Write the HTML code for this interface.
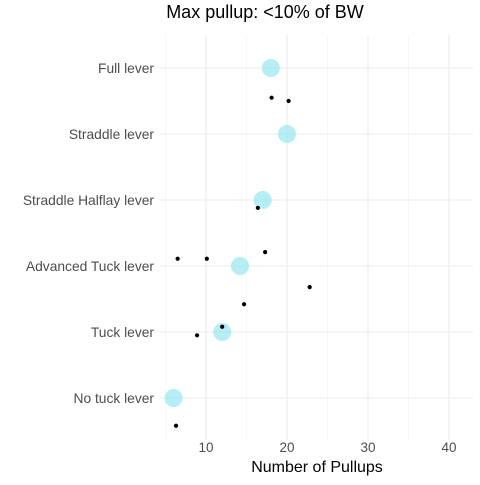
<!DOCTYPE html>
<html><head><meta charset="utf-8"><style>
body{margin:0;background:#fff;}
svg text{font-family:"Liberation Sans",sans-serif;}
</style></head><body>
<svg id="chart" width="480" height="480" xmlns="http://www.w3.org/2000/svg">
<rect width="480" height="480" fill="#fff"/>
<text x="265" y="18" text-anchor="middle" font-size="18" fill="#000">Max pullup: &lt;10% of BW</text>
<g id="grid"></g><g id="marks"></g><g id="labels"></g>
<text x="317" y="472" text-anchor="middle" font-size="16" fill="#000">Number of Pullups</text>
</svg>
<script>
const categories = ["No tuck lever","Tuck lever","Advanced Tuck lever","Straddle Halflay lever","Straddle lever","Full lever"];
const meanValues = [6, 12, 14.2, 17, 20, 18];
const pointX = [18.1, 20.2, 16.4, 17.3, 6.5, 10.1, 22.8, 14.7, 12, 8.9, 6.3];
const pointY = [5.55, 5.5, 3.88, 3.21, 3.11, 3.11, 2.68, 2.42, 2.08, 1.95, 0.58];
const xTicks = [10, 20, 30, 40];
const xMinor = [5, 15, 25, 35];

const ns = "http://www.w3.org/2000/svg";
const X = v => 125 + v * 8.1;
const Y = v => 398 - (v - 1) * 66;
const L = 160, R = 473, T = 35, B = 440;
function mk(tag, attrs, parent) {
  const e = document.createElementNS(ns, tag);
  for (const k in attrs) e.setAttribute(k, attrs[k]);
  document.getElementById(parent).appendChild(e);
  return e;
}
xMinor.forEach(v => {
  const e = mk("line", {x1: X(v), x2: X(v), y1: T, y2: B, stroke: "#f2f2f2", "stroke-width": 0.6}, "grid");
  
  
});
xTicks.forEach(v => {
  const e = mk("line", {x1: X(v), x2: X(v), y1: T, y2: B, stroke: "#ebebeb", "stroke-width": 1.1}, "grid");
  
  
  const t = mk("text", {x: X(v), y: 452, "text-anchor": "middle", "font-size": 13.5, fill: "#4d4d4d"}, "labels");
  t.textContent = v;
  
  
});
categories.forEach((c, i) => {
  const y = Y(i + 1);
  const e = mk("line", {x1: L, x2: R, y1: y, y2: y, stroke: "#ebebeb", "stroke-width": 1.1}, "grid");
  
  
  const t = mk("text", {x: 154, y: y + 5, "text-anchor": "end", "font-size": 13.8, fill: "#4d4d4d"}, "labels");
  t.textContent = c;
  
  
  const m = mk("circle", {cx: X(meanValues[i]), cy: y, r: 9, fill: "#8ee5ee", "fill-opacity": 0.65}, "marks");
  
  
});
pointX.forEach((v, i) => {
  const p = mk("circle", {cx: X(v), cy: Y(pointY[i]), r: 2.1, fill: "#000"}, "marks");
  
  
});
</script>
</body></html>
